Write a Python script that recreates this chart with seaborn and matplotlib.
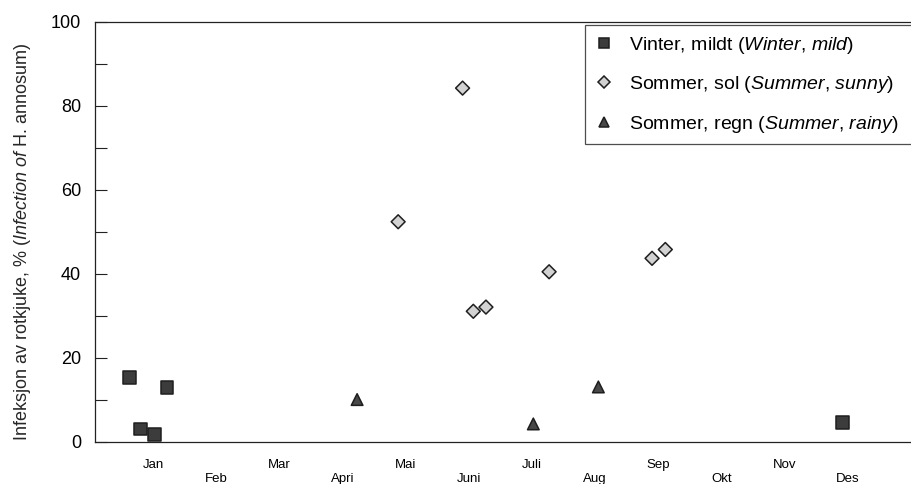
import matplotlib
matplotlib.use("Agg")
import matplotlib.pyplot as plt
import pandas as pd
import seaborn as sns

# month position (1 = mid Jan) and infection percent
winter_month = [0.62, 0.80, 1.02, 1.22, 11.91]
winter_pct = [15.4, 3.1, 1.7, 13.0, 4.6]

sunny_month = [4.88, 5.90, 6.07, 6.27, 7.27, 8.90, 9.11]
sunny_pct = [52.4, 84.2, 31.1, 32.1, 40.5, 43.7, 45.8]

rainy_month = [4.23, 7.02, 8.05]
rainy_pct = [10.1, 4.3, 13.1]

group_labels = [
    r"Vinter, mildt ($\mathit{Winter}$, $\mathit{mild}$)",
    r"Sommer, sol ($\mathit{Summer}$, $\mathit{sunny}$)",
    r"Sommer, regn ($\mathit{Summer}$, $\mathit{rainy}$)",
]

month_names = ["Jan", "Feb", "Mar", "Apri", "Mai", "Juni",
               "Juli", "Aug", "Sep", "Okt", "Nov", "Des"]


def build_dataframe() -> pd.DataFrame:
    frames = []
    for label, xs, ys in zip(group_labels,
                             [winter_month, sunny_month, rainy_month],
                             [winter_pct, sunny_pct, rainy_pct]):
        frames.append(pd.DataFrame({"month": xs, "pct": ys, "group": label}))
    return pd.concat(frames, ignore_index=True)


def draw(df):
    sns.set_theme(style="white")
    plt.rcParams["font.family"] = ["Liberation Sans", "DejaVu Sans"]
    plt.rcParams["mathtext.fontset"] = "custom"
    plt.rcParams["mathtext.rm"] = "Liberation Sans"
    plt.rcParams["mathtext.it"] = "Liberation Sans:italic"
    plt.rcParams["text.color"] = "black"
    plt.rcParams["xtick.color"] = "black"
    plt.rcParams["ytick.color"] = "black"

    fig = plt.figure(figsize=(9.11, 4.84), dpi=100)
    ax = fig.add_axes([95 / 911, 1 - 442 / 484, 1 - 95 / 911, (442 - 21.7) / 484])

    palette = dict(zip(group_labels, ["#3c3c3c", "#d2d2d2", "#484848"]))
    markers = dict(zip(group_labels, ["s", "D", "^"]))
    sizes = dict(zip(group_labels, [85, 50, 70]))

    sns.scatterplot(data=df, x="month", y="pct", hue="group", style="group",
                    size="group", sizes=sizes, palette=palette, markers=markers,
                    edgecolor="#1e1e1e", linewidth=1.1, ax=ax)

    ax.set_xlim(0.08, 13.0)
    ax.set_ylim(0, 100)

    ax.set_yticks(range(0, 101, 10))
    ax.set_yticklabels([str(v) if v % 20 == 0 else "" for v in range(0, 101, 10)])
    ax.tick_params(axis="y", direction="in", length=8.5, width=0.8,
                   color="#222222", labelsize=13, pad=10, left=True)

    ax.set_xticks(range(1, 13))
    ax.set_xticklabels([m if i % 2 == 0 else "\n" + m for i, m in enumerate(month_names)])
    ax.tick_params(axis="x", length=0, labelsize=9.5, pad=12.5)

    ax.set_xlabel("")
    ax.set_ylabel(r"Infeksjon av rotkjuke, % ($\mathit{Infection\ of}$ H. annosum)", fontsize=13)
    ax.yaxis.set_label_coords(-0.076, 0.476)

    for side in ["left", "top", "bottom"]:
        ax.spines[side].set_color("#222222")
        ax.spines[side].set_linewidth(0.9)
    ax.spines["right"].set_visible(False)

    handles, labels = ax.get_legend_handles_labels()
    leg = ax.legend(handles, labels, loc="upper left",
                    bbox_to_anchor=(0.6005, 0.992, 0.404, 0.0), mode="expand",
                    fontsize=14, frameon=True, fancybox=False, edgecolor="#222222",
                    borderaxespad=0, labelspacing=0.95, handlelength=1.0,
                    handletextpad=0.75, borderpad=0.5, markerscale=0.85)
    leg.get_frame().set_linewidth(0.9)

    fig.savefig("out.png", dpi=100)
    print("Saved out.png")


def main():
    df = build_dataframe()
    draw(df)


main()
